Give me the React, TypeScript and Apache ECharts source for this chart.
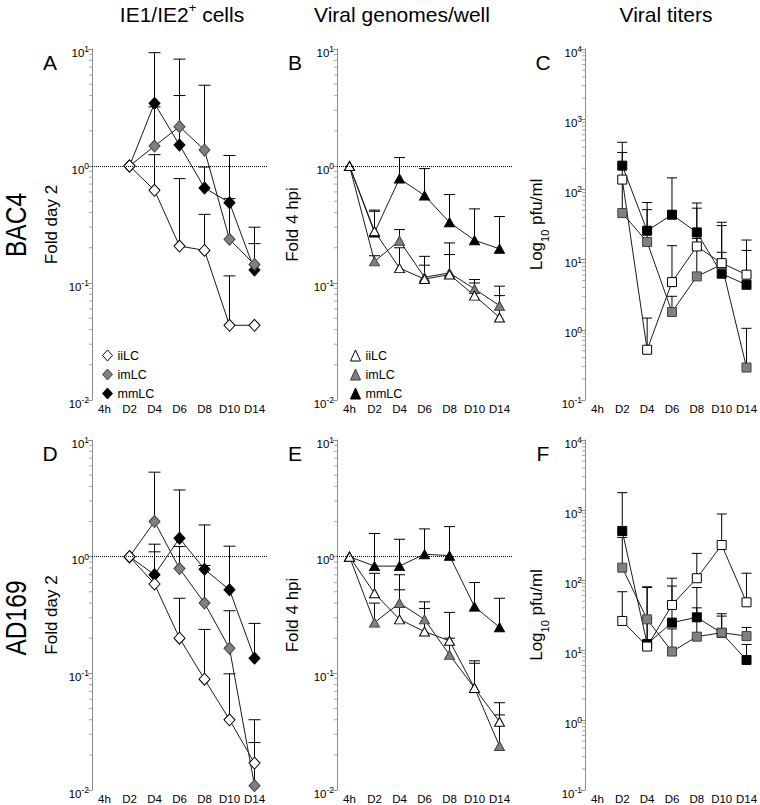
import React, { useEffect, useRef } from "react";
import * as echarts from "echarts";

// ---------- data ----------
const categories = ["4h", "D2", "D4", "D6", "D8", "D10", "D14"];
const groupNames = ["iiLC", "imLC", "mmLC"];
const columnTitles = ["{m|IE1/IE2}{s|+}{m| cells}", "{m|Viral genomes/well}", "{m|Viral titers}"];
const rowLabels = ["BAC4", "AD169"];
const panelLetters = ["A", "B", "C", "D", "E", "F"];
const yAxisNames = ["Fold day 2", "Fold 4 hpi", "{m|Log}{sub|10}{m| pfu/ml}"];
const yMinByColumn = [0.01, 0.01, 0.1];
const yMaxByColumn = [10, 10, 10000];
const minorMultipliers = [2, 3, 4, 5, 6, 7, 8, 9];

// Panel A: BAC4, IE1/IE2+ cells (fold day 2)
const aIiLC = [null, 1.0, 0.62, 0.207, 0.19, 0.0435, 0.0435];
const aImLC = [null, 1.0, 1.48, 2.17, 1.37, 0.236, 0.144];
const aMmLC = [null, 1.0, 3.43, 1.51, 0.65, 0.486, 0.129];
const aIiLCUpper = [null, null, 1.25, 0.78, 0.386, 0.115, null];
const aImLCUpper = [null, null, 3.2, 4.0, 4.9, 0.526, 0.3];
const aMmLCUpper = [null, null, 9.3, 8.2, 0.98, 1.23, 0.217];

// Panel B: BAC4, viral genomes/well (fold 4 hpi)
const bIiLC = [1.0, 0.277, 0.134, 0.108, 0.118, 0.078, 0.0508];
const bImLC = [1.0, 0.153, 0.23, 0.112, 0.122, 0.089, 0.064];
const bMmLC = [1.0, 0.27, 0.78, 0.56, 0.33, 0.232, 0.196];
const bIiLCUpper = [null, 0.42, 0.2, 0.142, 0.175, 0.1, 0.078];
const bImLCUpper = [null, 0.171, 0.286, 0.169, 0.22, 0.107, 0.094];
const bMmLCUpper = [null, 0.41, 1.18, 0.95, 0.57, 0.43, 0.37];

// Panel C: BAC4, viral titers (pfu/ml)
const cIiLC = [null, 138, 0.52, 4.78, 15.4, 8.9, 6.1];
const cImLC = [null, 46, 17.8, 1.79, 5.76, 8.5, 0.29];
const cMmLC = [null, 218, 25.8, 43.6, 24.4, 6.3, 4.38];
const cIiLCUpper = [null, 336, 1.47, 15.8, 54, 34, 19];
const cImLCUpper = [null, 150, 51.5, 3.0, 20, 12.7, 1.05];
const cMmLCUpper = [null, 469, 65, 146, 64, 30.5, 13.5];

// Panel D: AD169, IE1/IE2+ cells (fold day 2)
const dIiLC = [null, 1.0, 0.583, 0.2, 0.089, 0.04, 0.017];
const dImLC = [null, 1.0, 2.0, 0.79, 0.4, 0.164, 0.0109];
const dMmLC = [null, 1.0, 0.7, 1.44, 0.78, 0.52, 0.135];
const dIiLCUpper = [null, null, 1.1, 0.44, 0.238, 0.099, 0.04];
const dImLCUpper = [null, null, 5.3, 1.22, 0.84, 0.344, 0.0255];
const dMmLCUpper = [null, null, 1.28, 3.73, 1.87, 1.23, 0.268];

// Panel E: AD169, viral genomes/well (fold 4 hpi)
const eIiLC = [1.0, 0.485, 0.29, 0.228, 0.19, 0.075, 0.0385];
const eImLC = [1.0, 0.272, 0.4, 0.29, 0.144, 0.075, 0.0238];
const eMmLC = [1.0, 0.83, 0.83, 1.05, 1.02, 0.373, 0.248];
const eIiLCUpper = [null, 0.72, 0.52, 0.36, 0.333, 0.128, 0.056];
const eImLCUpper = [null, 0.4, 0.7, 0.41, 0.2, 0.122, 0.044];
const eMmLCUpper = [null, 1.58, 1.41, 1.73, 1.81, 0.6, 0.44];

// Panel F: AD169, viral titers (pfu/ml)
const fIiLC = [null, 26, 11.2, 44, 106, 316, 48];
const fImLC = [null, 150, 27.4, 9.5, 15.5, 17.7, 15.8];
const fMmLC = [null, 501, 12.2, 24.6, 29.3, 17.5, 7.2];
const fIiLCUpper = [null, 68, 80, 106, 240, 877, 125];
const fImLCUpper = [null, 406, 78, 20, 40, 33, 21];
const fMmLCUpper = [null, 1770, 28, 82, 78, 30.5, 12];

const panelValues = [
  [aIiLC, aImLC, aMmLC],
  [bIiLC, bImLC, bMmLC],
  [cIiLC, cImLC, cMmLC],
  [dIiLC, dImLC, dMmLC],
  [eIiLC, eImLC, eMmLC],
  [fIiLC, fImLC, fMmLC],
];
const panelUppers = [
  [aIiLCUpper, aImLCUpper, aMmLCUpper],
  [bIiLCUpper, bImLCUpper, bMmLCUpper],
  [cIiLCUpper, cImLCUpper, cMmLCUpper],
  [dIiLCUpper, dImLCUpper, dMmLCUpper],
  [eIiLCUpper, eImLCUpper, eMmLCUpper],
  [fIiLCUpper, fImLCUpper, fMmLCUpper],
];

// ---------- layout / style ----------
const FONT = "'Liberation Sans', Arial, Helvetica, sans-serif";
const gridLefts = [92, 337, 585];
const gridTops = [49, 440];
const gridHeights = [351, 350];
const gridWidth = 175;
const fills = ["#ffffff", "#808080", "#000000"];
const borders = ["#000000", "#404040", "#000000"];
const symbolsByColumn = ["diamond", "triangle", "rect"];
const symbolSizeByColumn: any[] = [[11, 12], [10, 9], 9];
const capHalfWidthByColumn = [6, 5.5, 5];
const nameGaps = [32, 36, 35];

function buildOption() {
  const grid: any[] = [];
  const xAxis: any[] = [];
  const yAxis: any[] = [];
  const series: any[] = [];
  const graphic: any[] = [];

  for (let idx = 0; idx < 6; idx++) {
    const col = idx % 3;
    const row = Math.floor(idx / 3);
    const capHalf = capHalfWidthByColumn[col];
    grid.push({
      left: gridLefts[col],
      top: gridTops[row],
      width: gridWidth,
      height: gridHeights[row],
      containLabel: false,
    });
    xAxis.push({
      type: "category",
      gridIndex: idx,
      data: categories,
      boundaryGap: true,
      axisLine: { show: false },
      axisTick: { show: false },
      axisLabel: { color: "#000", fontSize: 11.5, margin: 3, fontFamily: FONT, interval: 0 },
      splitLine: { show: false },
    });
    yAxis.push({
      type: "log",
      logBase: 10,
      gridIndex: idx,
      min: yMinByColumn[col],
      max: yMaxByColumn[col],
      name: yAxisNames[col],
      nameLocation: "middle",
      nameGap: nameGaps[col],
      nameTextStyle: {
        color: "#000",
        fontSize: 17,
        fontFamily: FONT,
        rich: {
          m: { fontSize: 17, fontFamily: FONT, color: "#000", lineHeight: 22, verticalAlign: "top" },
          sub: { fontSize: 11, fontFamily: FONT, color: "#000", lineHeight: 12, verticalAlign: "bottom" },
        },
      },
      axisLine: { show: true, lineStyle: { color: "#8c8c8c", width: 1 } },
      axisTick: { show: true, length: 4, lineStyle: { color: "#8c8c8c" } },
      splitLine: { show: false },
      axisLabel: {
        margin: 3,
        padding: [5, 0, 0, 0],
        formatter: (v: number) => {
          const e = Math.round(Math.log10(v));
          return `{b|10}{s|${e}}`;
        },
        rich: {
          b: { fontSize: 11.5, fontFamily: FONT, color: "#000", lineHeight: 14, verticalAlign: "bottom" },
          s: { fontSize: 8.5, fontFamily: FONT, color: "#000", lineHeight: 9, verticalAlign: "top" },
        },
      },
    });

    // minor ticks (log-spaced)
    const minorData: number[][] = [];
    const lo = Math.round(Math.log10(yMinByColumn[col]));
    const hi = Math.round(Math.log10(yMaxByColumn[col]));
    for (let k = lo; k < hi; k++) {
      minorMultipliers.forEach((m) => minorData.push([0, m * Math.pow(10, k)]));
    }
    series.push({
      type: "custom",
      xAxisIndex: idx,
      yAxisIndex: idx,
      silent: true,
      z: 1,
      data: minorData,
      renderItem: (params: any, api: any) => {
        const pt = api.coord([0, api.value(1)]);
        const x0 = params.coordSys.x;
        return {
          type: "line",
          shape: { x1: x0 - 3, y1: pt[1], x2: x0, y2: pt[1] },
          style: { stroke: "#a8a8a8", lineWidth: 1 },
        };
      },
    });

    const order = [2, 1, 0];
    // error bars
    order.forEach((g) => {
      const vals = panelValues[idx][g];
      const ups = panelUppers[idx][g];
      const data: number[][] = [];
      vals.forEach((v, i) => {
        const u = ups[i];
        if (v != null && u != null) data.push([i, v as number, u as number]);
      });
      series.push({
        type: "custom",
        name: groupNames[g],
        xAxisIndex: idx,
        yAxisIndex: idx,
        silent: true,
        z: 2,
        data,
        encode: { x: 0, y: [1, 2] },
        renderItem: (params: any, api: any) => {
          const base = api.coord([api.value(0), api.value(1)]);
          const top = api.coord([api.value(0), api.value(2)]);
          return {
            type: "group",
            children: [
              {
                type: "line",
                shape: { x1: base[0], y1: base[1], x2: base[0], y2: top[1] },
                style: { stroke: "#000", lineWidth: 1 },
              },
              {
                type: "line",
                shape: { x1: base[0] - capHalf, y1: top[1], x2: base[0] + capHalf, y2: top[1] },
                style: { stroke: "#000", lineWidth: 1 },
              },
            ],
          };
        },
      });
    });

    // connecting lines
    order.forEach((g, j) => {
      const s: any = {
        type: "line",
        name: groupNames[g],
        xAxisIndex: idx,
        yAxisIndex: idx,
        data: panelValues[idx][g].map((v) => (v == null ? "-" : v)),
        symbol: "none",
        showSymbol: false,
        connectNulls: false,
        lineStyle: { color: "#1a1a1a", width: 1 },
        silent: true,
        z: 3,
      };
      if (j === 0 && col < 2) {
        s.markLine = {
          silent: true,
          symbol: ["none", "none"],
          label: { show: false },
          lineStyle: { type: "dotted", color: "#000", width: 1 },
          data: [{ yAxis: 1 }],
        };
      }
      series.push(s);
    });

    // markers
    order.forEach((g) => {
      const data: number[][] = [];
      panelValues[idx][g].forEach((v, i) => {
        if (v != null) data.push([i, v as number]);
      });
      series.push({
        type: "scatter",
        name: groupNames[g],
        xAxisIndex: idx,
        yAxisIndex: idx,
        data,
        symbol: symbolsByColumn[col],
        symbolSize: symbolSizeByColumn[col],
        itemStyle: { color: fills[g], borderColor: borders[g], borderWidth: 1, opacity: 1 },
        silent: true,
        z: 4,
      });
    });

    // panel letter
    graphic.push({
      type: "text",
      x: gridLefts[col] - 42,
      y: gridTops[row] + 13,
      style: {
        text: panelLetters[idx],
        fontSize: 21,
        fontFamily: FONT,
        fill: "#000",
        align: "center",
        verticalAlign: "middle",
      },
    });
  }

  // column titles
  const titleCenters = [182, 402, 666];
  columnTitles.forEach((t, i) => {
    graphic.push({
      type: "text",
      x: titleCenters[i],
      y: 13,
      style: {
        text: t,
        align: "center",
        verticalAlign: "middle",
        fontFamily: FONT,
        rich: {
          m: { fontSize: 21, fontFamily: FONT, fill: "#000", lineHeight: 24, verticalAlign: "bottom" },
          s: { fontSize: 13, fontFamily: FONT, fill: "#000", lineHeight: 14, verticalAlign: "top" },
        },
      },
    });
  });

  // row labels
  const rowCenters = [225, 618];
  rowLabels.forEach((t, i) => {
    graphic.push({
      type: "text",
      x: 16,
      y: rowCenters[i],
      rotation: Math.PI / 2,
      scaleX: 0.82,
      style: {
        text: t,
        fontSize: 30,
        fontFamily: FONT,
        fill: "#000",
        align: "center",
        verticalAlign: "middle",
      },
    });
  });

  const legendBase = (col: number, left: number) => ({
    orient: "vertical",
    left,
    top: 344,
    itemGap: 6,
    itemWidth: 10,
    itemHeight: 11,
    selectedMode: false,
    textStyle: { fontSize: 12.5, fontFamily: FONT, color: "#000" },
    data: groupNames.map((n, g) => ({
      name: n,
      icon: symbolsByColumn[col],
      itemStyle: { color: fills[g], borderColor: borders[g], borderWidth: 1 },
    })),
  });

  return {
    animation: false,
    backgroundColor: "#ffffff",
    textStyle: { fontFamily: FONT },
    grid,
    xAxis,
    yAxis,
    series,
    graphic,
    legend: [legendBase(0, 97), legendBase(1, 345)],
  };
}

export default function App() {
  const ref = useRef<HTMLDivElement>(null);
  useEffect(() => {
    if (!ref.current) return;
    const chart = echarts.init(ref.current, null, { renderer: "svg" });
    chart.setOption(buildOption() as any);
    return () => chart.dispose();
  }, []);
  return (
    <div
      ref={ref}
      style={{ position: "absolute", left: 0, top: 0, width: 760, height: 805, background: "#fff" }}
    />
  );
}
